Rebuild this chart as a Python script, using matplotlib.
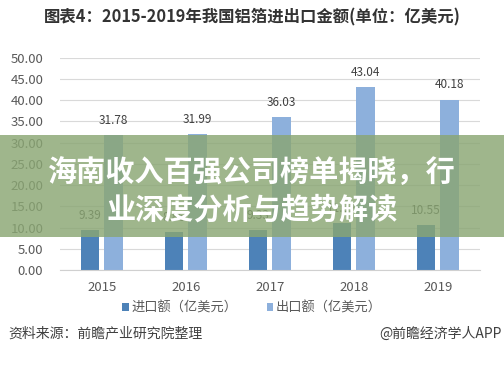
import matplotlib.pyplot as plt
import matplotlib.patches as patches
import numpy as np

plt.rcParams['font.family'] = ['Noto Sans CJK SC', 'DejaVu Sans']

years = ['2015', '2016', '2017', '2018', '2019']
imports = [9.39, 8.86, 9.33, 11.02, 10.55]
exports = [31.78, 31.99, 36.03, 43.04, 40.18]
labels = ['进口额（亿美元）', '出口额（亿美元）']

X = np.arange(len(years))
fig = plt.figure(figsize=(5.04, 3.78), dpi=100)
ax = fig.add_axes([0.119, 0.2857, 0.833, 0.5613])

b1 = ax.bar(X - 0.14, imports, width=0.22, color='#4d82b8', zorder=2)
b2 = ax.bar(X + 0.14, exports, width=0.22, color='#8db0dc', zorder=2)
ax.bar_label(b1, labels=['%.2f' % v for v in imports], padding=6, fontsize=8.5, color='#404040')
ax.bar_label(b2, labels=['%.2f' % v for v in exports], padding=6, fontsize=8.5, color='#404040')

ax.set_xlim(-0.5, 4.5)
ax.set_ylim(0, 50)
ax.set_yticks(np.arange(0, 51, 5))
ax.set_yticklabels(['%.2f' % v for v in np.arange(0, 51, 5)])
ax.set_xticks(X, years)
ax.tick_params(axis='y', length=0, pad=12, labelsize=9.5, labelcolor='#595959')
ax.tick_params(axis='x', length=0, pad=8, labelsize=9.5, labelcolor='#595959')
ax.grid(axis='y', color='#d9d9d9', linewidth=0.8, zorder=0)
for s in ['top', 'right', 'left']:
    ax.spines[s].set_visible(False)
ax.spines['bottom'].set_color('#d0d0d0')

fig.legend([b1, b2], labels, loc='center', bbox_to_anchor=(0.5, 0.185), ncol=2,
           frameon=False, fontsize=9.5, handlelength=0.5, handleheight=0.5,
           handletextpad=0.2, columnspacing=2.2, labelcolor='#595959')

fig.text(0.5, 0.955, '图表4：2015-2019年我国铝箔进出口金额(单位：亿美元)', ha='center', va='center',
         fontsize=11.8, fontweight='bold', color='#333333')
fig.text(0.016, 0.118, '资料来源：前瞻产业研究院整理', ha='left', va='center', fontsize=10, color='#404040')
fig.text(0.995, 0.118, '@前瞻经济学人APP', ha='right', va='center', fontsize=10, color='#404040')

# green banner over the chart
fig.patches.append(patches.Rectangle((0, 1 - 237 / 378), 1, 102 / 378, transform=fig.transFigure,
                                     facecolor='#8aa673', alpha=0.82, zorder=5))
fig.text(0.5, 1 - 172 / 378, '海南收入百强公司榜单揭晓，行', ha='center', va='center',
         fontsize=21, fontweight='bold', color='white', zorder=6)
fig.text(0.5, 1 - 210 / 378, '业深度分析与趋势解读', ha='center', va='center',
         fontsize=21, fontweight='bold', color='white', zorder=6)

fig.savefig('out.png', dpi=100)
